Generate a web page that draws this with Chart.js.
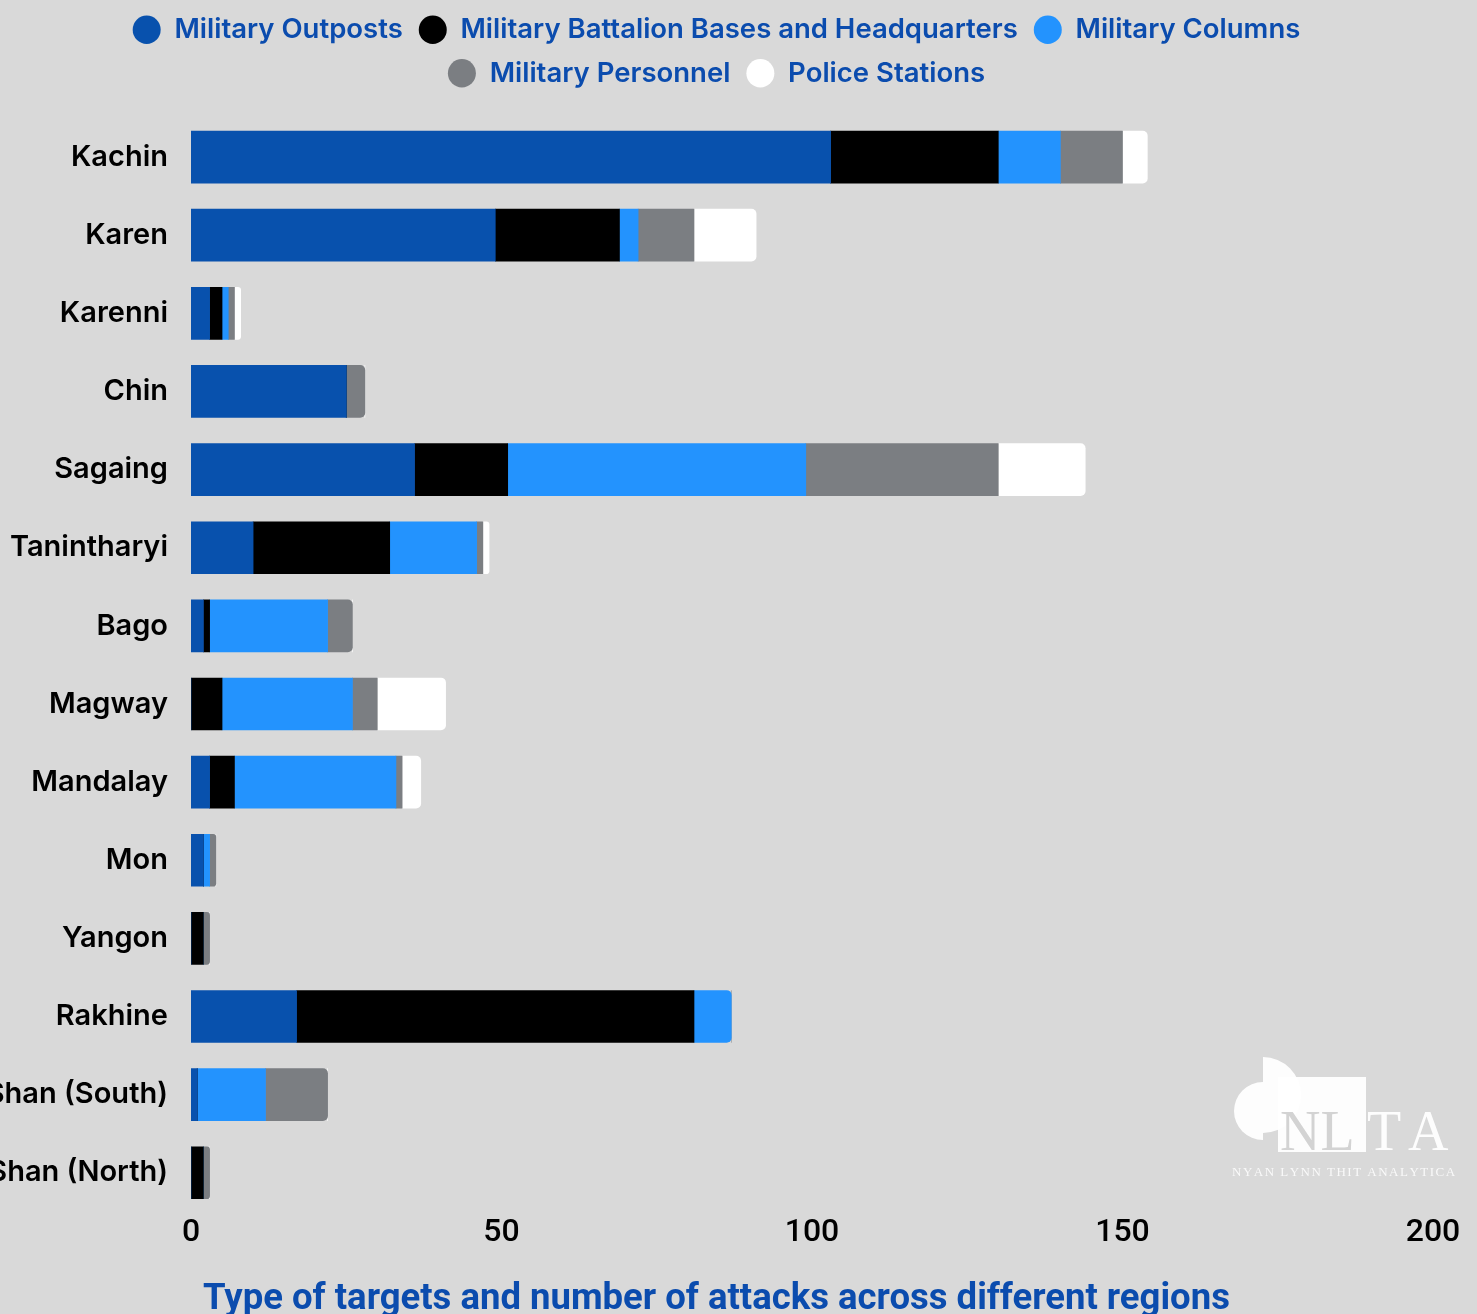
<!DOCTYPE html>
<html>
<head>
<meta charset="utf-8">
<title>Attacks by region</title>
<script src="https://cdn.jsdelivr.net/npm/chart.js@4.4.1/dist/chart.umd.min.js"></script>
<style>
  html, body { margin: 0; padding: 0; background: #d9d9d9; overflow: hidden; }
  #wrap { position: relative; width: 1477px; height: 1352px; }
</style>
</head>
<body>
<div id="wrap"><canvas id="attackChart"></canvas></div>
<script>
const regions = ['Kachin', 'Karen', 'Karenni', 'Chin', 'Sagaing', 'Tanintharyi', 'Bago',
  'Magway', 'Mandalay', 'Mon', 'Yangon', 'Rakhine', 'Shan (South)', 'Shan (North)'];

const outposts  = [103, 49, 3, 25, 36, 10, 2, 0, 3, 2, 0, 17, 1, 0];
const battalion = [27, 20, 2, 0, 15, 22, 1, 5, 4, 0, 2, 64, 0, 2];
const columns   = [10, 3, 1, 0, 48, 14, 19, 21, 26, 1, 0, 6, 11, 0];
const personnel = [10, 9, 1, 3, 31, 1, 4, 4, 1, 1, 1, 0, 10, 1];
const police    = [4, 10, 1, 0, 14, 1, 0, 11, 3, 0, 0, 0, 0, 0];

const xTicks = [0, 50, 100, 150, 200];

const BLUE_TEXT = '#0b4cae';

function series(label, data, color) {
  return {
    label,
    data,
    backgroundColor: color,
    borderWidth: 0,
    borderRadius: 5,
    barThickness: 52
  };
}

// push the plot down a little below the legend
const legendGap = {
  id: 'legendGap',
  beforeInit(chart) {
    const fit = chart.legend.fit;
    chart.legend.fit = function () {
      fit.bind(chart.legend)();
      this.height += 21;
    };
  }
};

// NLTA mark in the lower right corner
const logo = {
  id: 'logo',
  afterDraw(chart) {
    const c = chart.ctx;
    c.save();
    c.fillStyle = 'rgba(255,255,255,0.95)';
    c.beginPath();
    c.arc(1263, 1111, 29, Math.PI / 2, Math.PI * 1.5);
    c.fill();
    c.beginPath();
    c.moveTo(1263, 1057);
    c.arc(1263, 1095, 38, -Math.PI / 2, Math.PI / 2);
    c.closePath();
    c.fill();
    c.fillRect(1278, 1077, 88, 75);

    c.font = '56px "Liberation Serif", "DejaVu Serif", serif';
    c.textBaseline = 'alphabetic';
    c.textAlign = 'left';
    c.fillStyle = '#d3d3d3';
    c.fillText('NL', 1280, 1150);
    c.fillStyle = 'rgba(255,255,255,0.95)';
    c.fillText('T', 1367, 1150);
    c.fillText('A', 1408, 1150);

    c.font = '13px "Liberation Serif", "DejaVu Serif", serif';
    c.fillStyle = 'rgba(255,255,255,0.85)';
    const tag = 'NYAN LYNN THIT ANALYTICA';
    const w = c.measureText(tag).width;
    const spacing = (219 - w) / (tag.length - 1);
    let x = 1232;
    for (const ch of tag) {
      c.fillText(ch, x, 1176);
      x += c.measureText(ch).width + spacing;
    }
    c.restore();
  }
};

const ctx = document.getElementById('attackChart').getContext('2d');
new Chart(ctx, {
  type: 'bar',
  data: {
    labels: regions,
    datasets: [
      series('Military Outposts', outposts, '#0851ad'),
      series('Military Battalion Bases and Headquarters', battalion, '#000000'),
      series('Military Columns', columns, '#2393fe'),
      series('Military Personnel', personnel, '#7b7e82'),
      series('Police Stations', police, '#ffffff')
    ]
  },
  options: {
    indexAxis: 'y',
    responsive: true,
    maintainAspectRatio: false,
    animation: false,
    layout: { padding: { top: 0, right: 44, left: 0, bottom: 0 } },
    scales: {
      x: {
        stacked: true,
        min: 0,
        max: 200,
        afterBuildTicks(scale) { scale.ticks = xTicks.map(v => ({ value: v })); },
        grid: { display: false, drawTicks: false },
        border: { display: false },
        ticks: {
          padding: 2,
          color: '#000',
          font: { family: 'Roboto', size: 32, weight: '500' }
        }
      },
      y: {
        stacked: true,
        grid: { display: false, drawTicks: false },
        border: { display: false },
        afterFit(scale) { scale.width = 191; },
        ticks: {
          padding: 23,
          color: '#000',
          font: { family: 'Inter', size: 29, weight: '600' }
        }
      }
    },
    plugins: {
      legend: {
        position: 'top',
        labels: {
          usePointStyle: true,
          pointStyle: 'circle',
          boxHeight: 20,
          pointStyleWidth: 28,
          padding: 16,
          color: BLUE_TEXT,
          font: { family: 'Inter', size: 27.5, weight: '600' }
        }
      },
      title: {
        display: true,
        position: 'bottom',
        text: 'Type of targets and number of attacks across different regions',
        color: BLUE_TEXT,
        padding: { top: 24, bottom: 30 },
        font: { family: 'Roboto', size: 36.5, weight: '700' }
      },
      tooltip: { enabled: false }
    }
  },
  plugins: [legendGap, logo]
});
</script>
</body>
</html>
